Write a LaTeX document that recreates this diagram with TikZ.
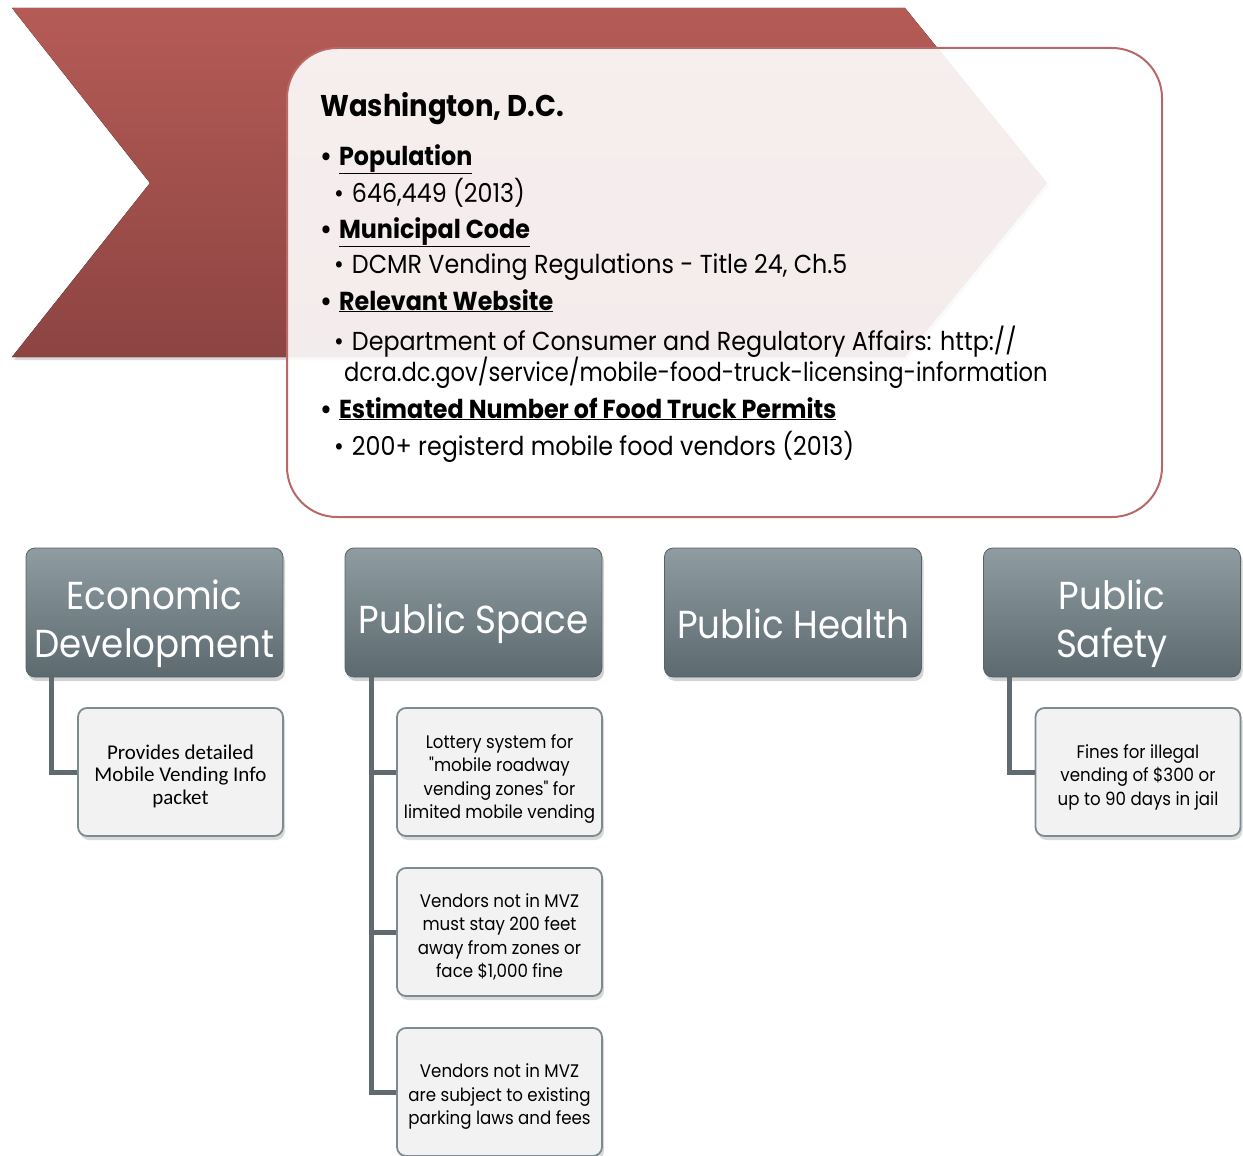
\documentclass[tikz,border=0pt]{standalone}
\usepackage{fontspec}
\setmainfont{Poppins}[FakeStretch=0.915]
\newfontfamily\qfont{Poppins}[FakeStretch=0.915, Ligatures=TeXOff]
\newfontfamily\calib{Carlito}
\usetikzlibrary{shadows}
\definecolor{chevtop}{HTML}{B55B56}
\definecolor{chevbot}{HTML}{8C4442}
\definecolor{boxline}{HTML}{B86866}
\definecolor{hdrtop}{HTML}{8F9CA2}
\definecolor{hdrbot}{HTML}{5C6A70}
\definecolor{hdrline}{HTML}{56646A}
\definecolor{conncol}{HTML}{5F6B71}
\definecolor{childfill}{HTML}{F2F2F2}
\definecolor{childline}{HTML}{7D8A90}
\tikzset{
  hdr/.style={rounded corners=9pt, top color=hdrtop, bottom color=hdrbot, draw=hdrline, line width=0.8pt,
    minimum width=257pt, minimum height=129pt, inner sep=0pt,
    drop shadow={shadow xshift=2pt, shadow yshift=-4pt, opacity=0.35}},
  hdrtxt/.style={align=center, text=white, inner sep=0pt, font=\fontsize{39}{48}\selectfont},
  child/.style={rounded corners=9pt, fill=childfill, draw=childline, line width=1.8pt,
    minimum width=205pt, minimum height=128pt, inner sep=0pt,
    drop shadow={shadow xshift=2pt, shadow yshift=-4pt, opacity=0.3}},
  childtxt/.style={align=center, text=black, inner sep=0pt, font=\fontsize{18.2}{23.5}\selectfont},
  conn/.style={draw=conncol, line width=5pt},
  ln/.style={anchor=base west, inner sep=0pt, font=\fontsize{26}{30}\selectfont},
  hd/.style={anchor=base west, inner sep=0pt, font=\fontsize{26}{30}\selectfont\bfseries},
}
\newcommand\qt{{\qfont"}}
\begin{document}
\begin{tikzpicture}[x=1pt,y=-1pt]
\useasboundingbox (0,0) rectangle (1243,1156);
% chevron
\fill[top color=chevtop, bottom color=chevbot,
  drop shadow={shadow xshift=2pt, shadow yshift=-3pt, opacity=0.3}]
  (12,8) -- (905,8) -- (1047,183) -- (905,357) -- (12,357) -- (150,183) -- cycle;
% main box
\node[draw=boxline, line width=2pt, fill=white, fill opacity=0.9, rounded corners=50pt,
  minimum width=875pt, minimum height=469pt, inner sep=0pt] (main) at (724.5,282.5) {};
% texts
\node[anchor=base west, inner sep=0pt, font=\fontsize{30}{32}\selectfont\bfseries] (title) at (320,117) {Washington, D.C.};
\node[hd] (pop) at (320,165) {•\hspace{7pt}\underline{Population}};
\node[ln] (popv) at (334,202) {•\hspace{8pt}646,449 (2013)};
\node[hd] (code) at (320,238) {•\hspace{7pt}\underline{Municipal Code}};
\node[ln] (codev) at (334,273) {•\hspace{8pt}DCMR Vending Regulations - Title 24, Ch.5};
\node[hd] (web) at (320,310) {•\hspace{7pt}\underline{Relevant Website}};
\node[ln] (webv) at (334,350) {•\hspace{8pt}Department of Consumer and Regulatory Affairs: http://};
\node[ln] (webv2) at (344,381) {\scalebox{0.95}[1]{dcra.dc.gov/service/mobile-food-truck-licensing-information}};
\node[hd] (est) at (320,418) {•\hspace{7pt}\underline{Estimated Number of Food Truck Permits}};
\node[ln] (estv) at (334,455) {•\hspace{8pt}200+ registerd mobile food vendors (2013)};
% header boxes
\node[hdr] (econ) at (154.5,612.5) {};
\node[hdr] (space) at (473.5,612.5) {};
\node[hdr] (health) at (793,612.5) {};
\node[hdr] (safety) at (1112,612.5) {};
\node[hdrtxt] (econt) at ([yshift=-11pt]econ.center) {Economic\\Development};
\node[hdrtxt] (spacet) at ([yshift=-11pt]space.center) {Public Space};
\node[hdrtxt] (healtht) at ([yshift=-11pt]health.center) {Public Health};
\node[hdrtxt] (safetyt) at ([yshift=-11pt]safety.center) {Public\\Safety};
% children
\node[child] (e1) at (180.5,772) {};
\node[child] (s1) at (499.5,772) {};
\node[child] (s2) at (499.5,932) {};
\node[child] (s3) at (499.5,1092) {};
\node[child] (f1) at (1138,772) {};
\node[childtxt, font=\calib\fontsize{21}{22.5}\selectfont] (e1t) at ([yshift=-4pt]e1.center) {Provides detailed\\Mobile Vending Info\\packet};
\node[childtxt] (s1t) at ([yshift=-7pt]s1.center) {Lottery system for\\\qt mobile roadway\\vending zones\qt{} for\\limited mobile vending};
\node[childtxt] (s2t) at ([yshift=-5pt]s2.center) {Vendors not in MVZ\\must stay 200 feet\\away from zones or\\face \$1,000 fine};
\node[childtxt] (s3t) at ([yshift=-5pt]s3.center) {Vendors not in MVZ\\are subject to existing\\parking laws and fees};
\node[childtxt] (f1t) at ([yshift=-5pt]f1.center) {Fines for illegal\\vending of \$300 or\\up to 90 days in jail};
% connectors
\draw[conn] ([xshift=26pt]econ.south west) |- (e1.west);
\draw[conn] ([xshift=27pt]space.south west) |- (s1.west);
\draw[conn] ([xshift=27pt]space.south west) |- (s2.west);
\draw[conn] ([xshift=27pt]space.south west) |- (s3.west);
\draw[conn] ([xshift=26pt]safety.south west) |- (f1.west);
\end{tikzpicture}
\end{document}
